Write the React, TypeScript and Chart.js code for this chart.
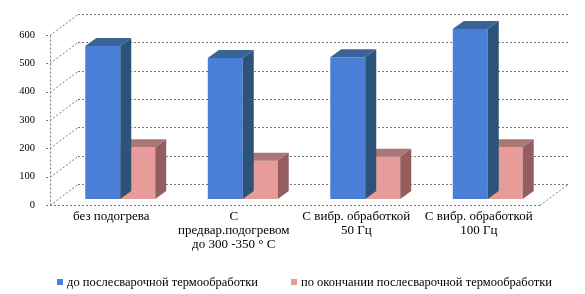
import React, { useEffect, useRef } from "react";
import { Chart, registerables } from "chart.js";

Chart.register(...registerables);

const categories: string[][] = [
  ["без подогрева"],
  ["С", "предвар.подогревом", "до 300 -350 ° С"],
  ["С вибр. обработкой", "50 Гц"],
  ["С вибр. обработкой", "100 Гц"],
];
const seriesNames = [
  "до послесварочной термообработки",
  "по окончании послесварочной термообработки",
];
const beforeValues = [540, 498, 500, 600];
const afterValues = [183, 135, 149, 183];
const yTicks = [0, 100, 200, 300, 400, 500, 600];

const FRONT = ["#4a7fd8", "#e89c9a"];
const TOP = ["#3a6496", "#ab7676"];
const SIDE = ["#2c5479", "#955e5e"];

const BAR_SHIFT_X = 9;
const BAR_SHIFT_Y = -6;
const BAR_DX = 11;
const BAR_DY = -8;
const WALL_DX = 28;
const WALL_DY = -21;

const threeD = {
  id: "threeD",
  beforeDatasetsDraw(chart: any) {
    const ctx = chart.ctx;
    const y = chart.scales.y;
    const a = chart.chartArea;
    ctx.save();
    ctx.strokeStyle = "#777";
    ctx.lineWidth = 1;
    ctx.setLineDash([2, 2]);
    yTicks.forEach((v) => {
      const py = Math.round(y.getPixelForValue(v)) + 0.5;
      ctx.beginPath();
      ctx.moveTo(a.left + WALL_DX, py + WALL_DY);
      ctx.lineTo(a.right + WALL_DX, py + WALL_DY);
      ctx.stroke();
      ctx.beginPath();
      ctx.moveTo(a.left, py);
      ctx.lineTo(a.left + WALL_DX, py + WALL_DY);
      ctx.stroke();
      ctx.beginPath();
      ctx.moveTo(a.left - 4, py);
      ctx.lineTo(a.left, py);
      ctx.stroke();
    });
    const by = Math.round(y.getPixelForValue(0)) + 0.5;
    ctx.beginPath();
    ctx.moveTo(a.left, by);
    ctx.lineTo(a.right, by);
    ctx.stroke();
    ctx.beginPath();
    ctx.moveTo(a.right, by);
    ctx.lineTo(a.right + WALL_DX, by + WALL_DY);
    ctx.stroke();
    const ty = Math.round(y.getPixelForValue(600)) + 0.5;
    ctx.beginPath();
    ctx.moveTo(a.left + 0.5, ty);
    ctx.lineTo(a.left + 0.5, by);
    ctx.stroke();
    ctx.restore();
  },
  beforeDatasetDraw(chart: any) {
    chart.ctx.save();
    chart.ctx.translate(BAR_SHIFT_X, BAR_SHIFT_Y);
  },
  afterDatasetDraw(chart: any, args: any) {
    const ctx = chart.ctx;
    const i = args.index;
    const meta = chart.getDatasetMeta(i);
    meta.data.forEach((bar: any) => {
      const w = bar.width;
      const l = bar.x - w / 2;
      const r = bar.x + w / 2;
      const t = bar.y;
      const b = bar.base;
      ctx.fillStyle = TOP[i];
      ctx.beginPath();
      ctx.moveTo(l, t);
      ctx.lineTo(r, t);
      ctx.lineTo(r + BAR_DX, t + BAR_DY);
      ctx.lineTo(l + BAR_DX, t + BAR_DY);
      ctx.closePath();
      ctx.fill();
      ctx.fillStyle = SIDE[i];
      ctx.beginPath();
      ctx.moveTo(r, t);
      ctx.lineTo(r + BAR_DX, t + BAR_DY);
      ctx.lineTo(r + BAR_DX, b + BAR_DY);
      ctx.lineTo(r, b);
      ctx.closePath();
      ctx.fill();
    });
    ctx.restore();
  },
  afterDraw(chart: any) {
    const ctx = chart.ctx;
    ctx.save();
    ctx.font = "12.5px 'Liberation Serif', serif";
    ctx.textBaseline = "middle";
    const box = 6;
    const gapText = 4;
    const gapItems = 33;
    const widths = seriesNames.map((n) => box + gapText + ctx.measureText(n).width);
    const total = widths[0] + widths[1] + gapItems;
    let x = (chart.width - total) / 2 + 12;
    const yy = 282;
    seriesNames.forEach((n, i) => {
      ctx.fillStyle = FRONT[i];
      ctx.fillRect(x, yy - 3, box, box);
      ctx.fillStyle = "#000";
      ctx.fillText(n, x + box + gapText, yy + 1);
      x += widths[i] + gapItems;
    });
    ctx.restore();
  },
};

export default function App() {
  const ref = useRef<HTMLCanvasElement>(null);
  useEffect(() => {
    const chart = new Chart(ref.current!, {
      type: "bar",
      data: {
        labels: categories,
        datasets: [
          { label: seriesNames[0], data: beforeValues, backgroundColor: FRONT[0] },
          { label: seriesNames[1], data: afterValues, backgroundColor: FRONT[1] },
        ],
      },
      options: {
        responsive: false,
        animation: false,
        devicePixelRatio: 1,
        layout: { padding: { left: 0, top: 35, right: 45, bottom: 0 } },
        plugins: { legend: { display: false }, tooltip: { enabled: false } },
        datasets: { bar: { categoryPercentage: 0.571, barPercentage: 1 } },
        scales: {
          x: {
            grid: { display: false, drawTicks: false },
            border: { display: false },
            afterFit: (s: any) => { s.height = 89; },
            ticks: {
              padding: 5,
              maxRotation: 0,
              autoSkip: false,
              color: "#000",
              font: { family: "'Liberation Serif', serif", size: 13, lineHeight: 1.05 },
            },
          },
          y: {
            min: 0,
            max: 600,
            grid: { display: false, drawTicks: false },
            border: { display: false },
            afterFit: (s: any) => { s.width = 50; },
            ticks: {
              stepSize: 100,
              padding: 15,
              color: "#000",
              font: { family: "'Liberation Serif', serif", size: 10.5 },
            },
          },
        },
      },
      plugins: [threeD],
    });
    return () => chart.destroy();
  }, []);
  return (
    <div style={{ position: "fixed", left: 0, top: 0, width: 585, height: 294, background: "#fff" }}>
      <canvas ref={ref} width={585} height={294} style={{ display: "block" }} />
    </div>
  );
}
